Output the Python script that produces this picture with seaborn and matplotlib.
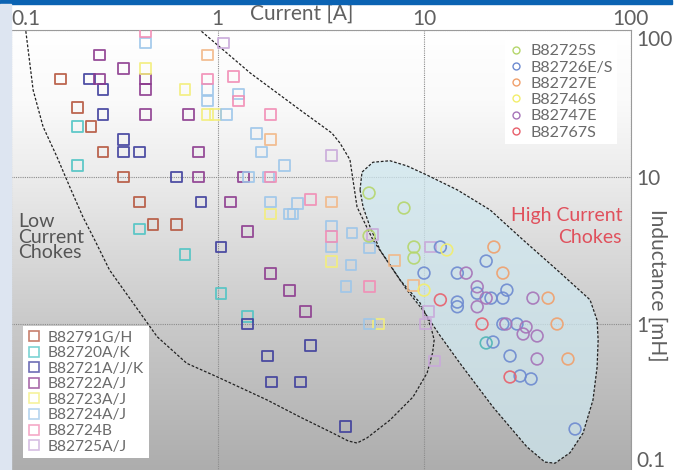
import numpy as np
import pandas as pd
import seaborn as sns
import matplotlib
matplotlib.use("Agg")
import matplotlib.pyplot as plt
from matplotlib.colors import LinearSegmentedColormap
from matplotlib.lines import Line2D
from matplotlib.patches import Rectangle

# ---- square series (current [A], inductance [mH]) ----
b82791_cur = [0.173, 0.209, 0.244, 0.279, 0.349, 0.417, 0.487, 0.630]
b82791_ind = [46.4, 29.9, 21.9, 14.8, 10.0, 6.76, 4.72, 4.72]
b82720_cur = [0.209, 0.209, 0.417, 0.696, 1.04, 1.39]
b82720_ind = [21.9, 11.9, 4.43, 2.99, 1.62, 1.13]
b82721_cur = [0.239, 0.279, 0.279, 0.349, 0.349, 0.417, 0.630, 0.832, 1.04, 1.39,
              2.81, 1.74, 1.82, 2.51, 4.15]
b82721_ind = [46.4, 39.1, 26.8, 17.9, 14.8, 14.8, 10.0, 6.76, 3.34, 1.00,
              0.709, 0.606, 0.403, 0.403, 0.202]
b82722_cur = [0.267, 0.349, 0.267, 0.446, 0.446, 0.446, 0.720, 0.805, 0.805, 1.34,
              1.16, 1.39, 1.80, 2.24, 2.68]
b82722_ind = [67.6, 55.1, 46.4, 46.4, 39.1, 26.8, 26.8, 14.8, 10.0, 10.0,
              6.76, 4.23, 2.22, 1.70, 1.21]
b82723_cur = [0.446, 0.696, 0.890, 0.973, 1.80, 3.58, 5.99]
b82723_ind = [55.1, 39.1, 26.8, 26.8, 5.60, 2.68, 1.00]
b82724aj_cur = [0.446, 0.890, 0.890, 1.26, 1.11, 1.54, 1.64, 2.10, 1.42, 1.76, 1.80,
                2.43, 2.24, 2.32, 3.58, 3.58, 4.48, 4.43, 4.19, 5.42, 5.42]
b82724aj_ind = [81.6, 39.1, 32.9, 36.7, 26.8, 19.9, 14.8, 11.9, 10.0, 10.0, 6.76,
                6.65, 5.60, 5.60, 4.64, 3.34, 4.16, 2.52, 1.79, 3.29, 1.00]
b82724b_cur = [0.446, 0.890, 1.19, 1.26, 1.80, 1.80, 2.81, 3.58, 5.42]
b82724b_ind = [96.9, 46.4, 48.6, 32.9, 26.8, 10.0, 6.98, 3.91, 1.79]
b82725aj_cur = [1.07, 3.58, 5.66, 10.8, 10.5, 10.2, 11.2]
b82725aj_ind = [81.6, 14.1, 4.09, 3.34, 1.21, 1.00, 0.560]
peach_sq_cur = [0.890, 1.80, 3.58, 7.16, 8.85]
peach_sq_ind = [67.6, 17.9, 6.76, 2.72, 1.84]

# ---- circle series ----
b82725s_cur = [5.42, 8.00, 5.42, 8.94, 8.94]
b82725s_ind = [7.78, 6.15, 3.97, 3.34, 2.81]
b82726_cur = [12.0, 20.0, 10.0, 14.5, 14.5, 14.5, 18.1, 21.1, 24.1, 25.2, 24.1, 28.2,
              21.6, 26.1, 29.2, 33.0, 53.9]
b82726_ind = [3.34, 2.68, 2.22, 2.22, 1.41, 1.31, 1.62, 1.50, 1.50, 1.70, 1.00, 1.00,
              0.754, 0.606, 0.443, 0.423, 0.193]
b82727_cur = [21.8, 24.1, 39.9, 44.1, 49.8]
b82727_ind = [3.34, 2.22, 1.50, 1.00, 0.578]
b82746_cur = [12.9, 10.0]
b82746_ind = [3.19, 1.70]
b82747_cur = [16.0, 18.1, 20.0, 18.1, 33.7, 24.9, 31.2, 30.2, 35.3, 35.3]
b82747_ind = [2.22, 1.79, 1.50, 1.31, 1.50, 1.00, 0.954, 0.855, 0.829, 0.578]
b82767_cur = [12.0, 19.1, 26.1]
b82767_ind = [1.46, 1.00, 0.436]
teal_ci_cur = [20.0]
teal_ci_ind = [0.743]

# ---- region outlines ----
low_cur = [0.115, 0.118, 0.128, 0.143, 0.167, 0.193, 0.223, 0.255, 0.30, 0.39, 0.51,
           0.71, 1.0, 1.74, 2.51, 3.62, 4.3, 4.74, 5.3, 6.84, 8.85, 10.35, 11.0, 11.2,
           10.9, 10.35, 9.57, 7.66, 5.66, 4.74, 4.53, 4.38, 3.92, 3.58, 2.51, 1.44,
           0.822, 0.72]
low_ind = [130, 98, 39, 22, 13.7, 8.5, 5.35, 3.7, 2.33, 1.39, 0.82, 0.54, 0.436, 0.304,
           0.233, 0.181, 0.16, 0.155, 0.168, 0.222, 0.319, 0.464, 0.635, 0.778, 0.91,
           1.12, 1.39, 1.99, 3.73, 6.25, 9.55, 13.1, 17.0, 19.9, 28.6, 51.0, 100, 130]
high_cur = [4.90, 5.01, 5.66, 6.84, 8.27, 10.35, 14.5, 20.9, 30.2, 44.1, 63.7, 68.9,
            69.7, 68.9, 65.8, 58.9, 50.9, 43.1, 38.5, 31.5, 21.6, 14.9, 11.9, 9.89,
            8.27, 6.13, 5.48, 5.07]
high_ind = [8.17, 10.8, 12.6, 12.9, 11.9, 10.3, 8.17, 5.97, 3.73, 2.33, 1.46, 1.06,
            0.778, 0.509, 0.304, 0.181, 0.133, 0.113, 0.115, 0.146, 0.272, 0.543,
            0.842, 1.24, 1.70, 3.18, 4.57, 6.25]

square_names = ["B82791G/H", "B82720A/K", "B82721A/J/K", "B82722A/J",
                "B82723A/J", "B82724A/J", "B82724B", "B82725A/J"]
square_colors = ["#b5553d", "#4fc4c4", "#3d3d9c", "#8c3a8e",
                 "#f3ee7c", "#9dc6ea", "#f28db5", "#c9a9da"]
circle_names = ["B82725S", "B82726E/S", "B82727E", "B82746S", "B82747E", "B82767S"]
circle_colors = ["#b5d66c", "#6d8ad0", "#f0a06c", "#f2ee6c", "#a673b8", "#e8606c"]

sq_data = [(b82791_cur, b82791_ind), (b82720_cur, b82720_ind), (b82721_cur, b82721_ind),
           (b82722_cur, b82722_ind), (b82723_cur, b82723_ind), (b82724aj_cur, b82724aj_ind),
           (b82724b_cur, b82724b_ind), (b82725aj_cur, b82725aj_ind),
           (peach_sq_cur, peach_sq_ind)]
ci_data = [(b82725s_cur, b82725s_ind), (b82726_cur, b82726_ind), (b82727_cur, b82727_ind),
           (b82746_cur, b82746_ind), (b82747_cur, b82747_ind), (b82767_cur, b82767_ind),
           (teal_ci_cur, teal_ci_ind)]


def to_frame(names, data):
    rows = []
    for name, (cur, ind) in zip(names, data):
        for c, i in zip(cur, ind):
            rows.append({"series": name, "current": c, "inductance": i})
    return pd.DataFrame(rows)


sq_df = to_frame(square_names + ["other"], sq_data)
ci_df = to_frame(circle_names + ["other"], ci_data)
sq_pal = dict(zip(square_names + ["other"], square_colors + ["#f2b888"]))
ci_pal = dict(zip(circle_names + ["other"], circle_colors + ["#4fb5b5"]))

sns.set_style("white")
plt.rcParams["font.family"] = ["Lato", "DejaVu Sans"]
txt = "#606060"

fig = plt.figure(figsize=(6.85, 4.70), dpi=100)
pos = [11 / 685, -1 / 470, 619.5 / 685, 441 / 470]

# background gradient (white at top, gray at bottom)
bg = fig.add_axes(pos, zorder=0)
stops = [(0.0, "#ffffff"), (0.16, "#fafafa"), (0.33, "#ececec"), (0.48, "#dcdcdc"),
         (0.67, "#c9c9c9"), (0.84, "#bbbbbb"), (1.0, "#adadad")]
cmap = LinearSegmentedColormap.from_list("bg", stops)
bg.imshow(np.linspace(0, 1, 256).reshape(-1, 1), cmap=cmap, aspect="auto",
          extent=[0, 1, 0, 1], origin="upper")
bg.axis("off")

ax = fig.add_axes(pos, zorder=1)
ax.set_facecolor("none")
ax.set_xscale("log")
ax.set_yscale("log")
ax.set_xlim(0.1, 100)
ax.set_ylim(0.1, 100)

# regions
ax.fill(high_cur, high_ind, facecolor="#cfe8f0", alpha=0.72, edgecolor="none", zorder=1)
ax.plot(high_cur + high_cur[:1], high_ind + high_ind[:1], color="#222222", lw=0.9,
        ls=(0, (2.2, 1.4)), zorder=2)
ax.plot(low_cur, low_ind, color="#222222", lw=0.9, ls=(0, (2.2, 1.4)), zorder=2)

# points
sns.scatterplot(data=sq_df, x="current", y="inductance", hue="series", palette=sq_pal,
                marker="s", s=62, linewidth=1.3, alpha=0.9, legend=False, ax=ax, zorder=4)
coll = ax.collections[-1]
coll.set_edgecolors(coll.get_facecolors())
coll.set_facecolors("none")
sns.scatterplot(data=ci_df, x="current", y="inductance", hue="series", palette=ci_pal,
                marker="o", s=72, linewidth=1.2, alpha=0.9, legend=False, ax=ax, zorder=4)
coll = ax.collections[-1]
coll.set_edgecolors(coll.get_facecolors())
coll.set_facecolors("none")

# axes styling
ticks = [0.1, 1, 10, 100]
tick_labels = ["0.1", "1", "10", "100"]
ax.xaxis.tick_top()
ax.yaxis.tick_right()
ax.set_xticks(ticks)
ax.set_xticklabels(tick_labels)
ax.set_yticks(ticks)
ax.set_yticklabels(tick_labels)
ax.minorticks_off()
ax.tick_params(axis="both", length=0, labelsize=15, labelcolor=txt)
ax.tick_params(axis="x", pad=1)
ax.tick_params(axis="y", pad=4)
ax.get_xticklabels()[0].set_ha("left")
ylabs = ax.get_yticklabels()
ylabs[0].set_va("bottom")
ylabs[-1].set_va("top")

ax.grid(True, color="#8c8c8c", lw=0.8, ls=(0, (1, 1)))
for side in ["left", "bottom"]:
    ax.spines[side].set_visible(False)
for side in ["top", "right"]:
    ax.spines[side].set_color("#9a9a9a")
    ax.spines[side].set_linestyle((0, (1, 1)))
    ax.spines[side].set_linewidth(0.8)

ax.set_xlabel("Current [A]", fontsize=15, color=txt)
ax.xaxis.set_label_position("top")
ax.xaxis.set_label_coords(0.47, 1.038)
ax.xaxis.label.set_va("center")
ax.set_ylabel("Inductance [mH]", fontsize=15, color=txt, rotation=-90)
ax.yaxis.set_label_position("right")
ax.yaxis.set_label_coords(1.043, 0.42)
ax.yaxis.label.set_va("center")

ax.text(0.108, 3.9, "Low\nCurrent\nChokes", fontsize=14, color="#555555", va="center",
        ha="left", linespacing=0.88, zorder=5)
ax.text(91, 4.6, "High Current\nChokes", fontsize=14, color="#e0505c", va="center",
        ha="right", multialignment="right", linespacing=1.3, zorder=5)

# legends
sq_handles = [Line2D([], [], ls="none", marker="s", markersize=7.5, markerfacecolor="none",
                     markeredgecolor=c, markeredgewidth=1.2, alpha=0.75, label=n)
              for n, c in zip(square_names, square_colors)]
leg1 = ax.legend(handles=sq_handles, loc="lower left", bbox_to_anchor=(0.019, 0.029),
                 borderaxespad=0, labelspacing=0.1, handlelength=0.9,
                 handletextpad=0.4, borderpad=0.3, fancybox=False, framealpha=1,
                 labelcolor="#6a6a6a", prop={"size": 11.2})
leg1.get_frame().set_edgecolor("none")
leg1.set_zorder(6)
ax.add_artist(leg1)

ci_handles = [Line2D([], [], ls="none", marker="o", markersize=5, markerfacecolor="none",
                     markeredgecolor=c, markeredgewidth=1.0, label=n)
              for n, c in zip(circle_names, circle_colors)]
leg2 = ax.legend(handles=ci_handles, loc="upper right", bbox_to_anchor=(0.978, 0.977),
                 borderaxespad=0, labelspacing=0.12, handlelength=0.9,
                 handletextpad=0.45, borderpad=0.25, fancybox=False, framealpha=1,
                 labelcolor="#6a6a6a", prop={"size": 11.6})
leg2.get_frame().set_edgecolor("none")
leg2.set_zorder(6)

# page decorations: blue bar at top, light strip on the left
fig.patches.append(Rectangle((0, 1 - 4 / 470), 672 / 685, 4 / 470, transform=fig.transFigure,
                             color="#0b63b3", zorder=10))
fig.patches.append(Rectangle((0, 0), 11 / 685, 1 - 4 / 470, transform=fig.transFigure,
                             color="#dde5f1", zorder=10))

fig.savefig("out.png", dpi=100, facecolor="white")
